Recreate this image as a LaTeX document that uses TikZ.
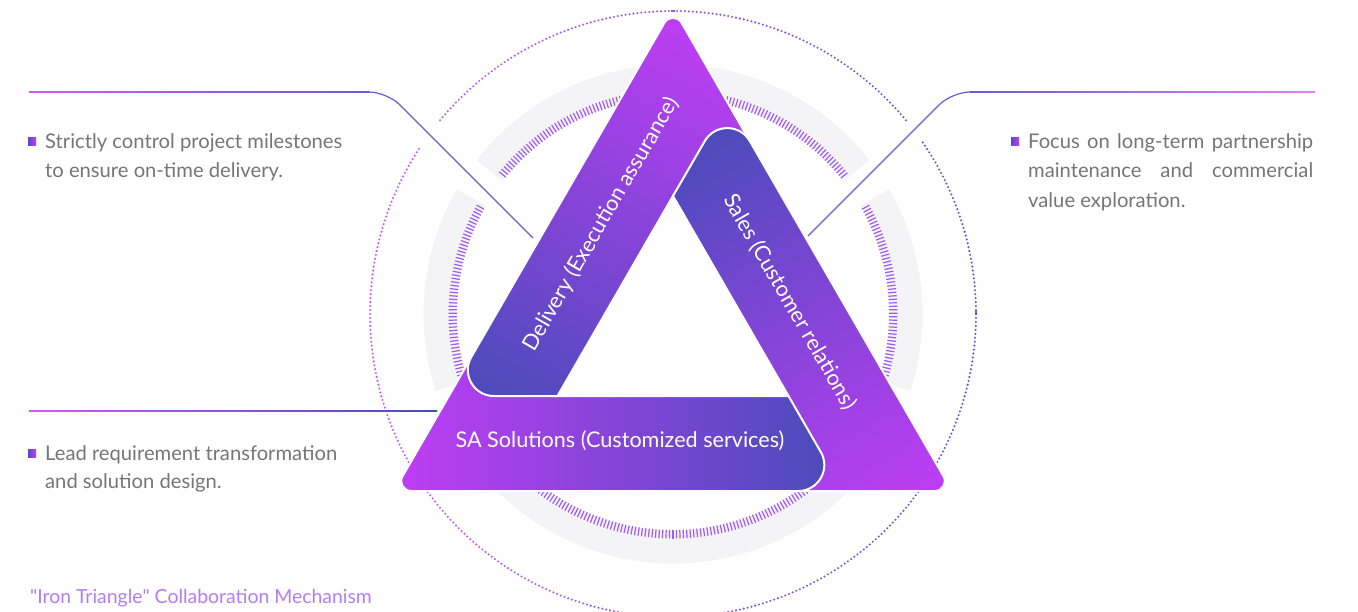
\documentclass[tikz,border=0pt]{standalone}
\usepackage{fontspec}
\setmainfont{Lato}
\usetikzlibrary{calc}
\definecolor{mag}{RGB}{200,60,250}
\definecolor{ind}{RGB}{70,76,184}
\definecolor{tickc}{RGB}{160,90,245}
\definecolor{ringgray}{RGB}{244,244,246}
\definecolor{txtgray}{RGB}{118,118,118}
\definecolor{capc}{RGB}{180,125,248}
\definecolor{dotm}{RGB}{205,90,245}
\definecolor{dotb}{RGB}{85,92,208}
\definecolor{linem}{RGB}{210,90,245}
\definecolor{linep}{RGB}{228,128,245}
\definecolor{linei}{RGB}{104,92,212}
\definecolor{bulA}{RGB}{85,75,205}
\definecolor{bulB}{RGB}{200,60,245}
\tikzset{
  body/.style={anchor=base west, inner sep=0pt, text=txtgray, font=\fontsize{20.2}{24}\selectfont},
  lbl/.style={text=white, inner sep=0pt, font=\fontsize{21.6}{26}\selectfont},
  outl/.style={draw=white, line width=2pt},
  tickmark/.style={draw=tickc, line width=1.2pt},
  conn/.style={line width=1.2pt, rounded corners=18pt},
}
\begin{document}
\begin{tikzpicture}[x=1pt,y=-1pt]
\useasboundingbox (0,0) rectangle (1358,611);
\fill[white] (0,0) rectangle (1358,611);

% ---------- dotted circle ----------
\foreach \k in {0,...,479}{
  \pgfmathsetmacro\ang{\k*0.75}
  \pgfmathtruncatemacro\dgap{((\ang>34.5)&&(\ang<39.5))||((\ang>140.5)&&(\ang<146.5)) ? 1 : 0}
  \ifnum\dgap=0
    \pgfmathtruncatemacro\mixp{50-50*cos(\ang)}
    \fill[dotm!\mixp!dotb] ({673+303*cos(\ang)},{314-303*sin(\ang)}) circle (1.15);
  \fi
}
\fill[dotm!50!dotb] (670.8,9.6) rectangle (675.2,12.4);
\fill[dotb] (974.6,310.8) rectangle (977.4,315.2);

% ---------- gray ring ----------
\foreach \s/\e in {38/142, 150/198, 222/318, 342/390}{
  \draw[ringgray, line width=33pt, line cap=butt] plot[domain=\s:\e, samples=60] ({673+233*cos(\x)},{314-233*sin(\x)});
}
% ---------- ticks ----------
\foreach \s/\n in {39/113, 151/50, 225/100, 344/50}{
  \foreach \k in {0,...,\n}{
    \pgfmathsetmacro\ang{\s+0.9*\k}
    \draw[tickmark] ({673+216*cos(\ang)},{314-216*sin(\ang)}) -- ({673+224.5*cos(\ang)},{314-224.5*sin(\ang)});
  }
}

% ---------- connectors ----------
\coordinate (L1s) at (29,92);
\coordinate (L1h) at (369,92);
\coordinate (L1c) at (387,92);
\coordinate (L1e) at (533,238);
\shade[left color=linem, right color=linei] (29,91.4) rectangle (369.5,92.6);
\draw[conn, linei] (L1h) -- (L1c) -- (L1e);

\coordinate (L2s) at (1315,92);
\coordinate (L2h) at (970,92);
\coordinate (L2c) at (952,92);
\coordinate (L2e) at (808,236);
\shade[left color=linei, right color=linep] (969.5,91.4) rectangle (1315,92.6);
\draw[conn, linei] (L2h) -- (L2c) -- (L2e);

\coordinate (L3s) at (29,411);
\coordinate (L3e) at (437,411);
\shade[left color=linem, right color=ind] (29,410.4) rectangle (437,411.6);

% ---------- triangle geometry ----------
\coordinate (A) at (673,8);
\coordinate (B) at (394,491);
\coordinate (C) at (952,491);
\coordinate (a) at (673,196);
\coordinate (b) at (557.5,396);
\coordinate (c) at (788.5,396);
\coordinate (P) at (448.8,396);
\coordinate (Q) at (843.3,491);
\coordinate (R) at (727.3,102.1);
\coordinate (D1) at (704.2,250);
\coordinate (D2) at (812.7,250);
\coordinate (S1) at (760,491);
\coordinate (E1) at (584.1,350);
\coordinate (E2) at (475.4,350);

\coordinate (Ar) at ($(A)!17pt!(C)$);  \coordinate (Al) at ($(A)!17pt!(B)$);
\coordinate (Arh) at ($(Ar)!0.444!(A)$); \coordinate (Alh) at ($(Al)!0.444!(A)$);
\coordinate (Cr) at ($(C)!17pt!(A)$);  \coordinate (Cb) at ($(C)!17pt!(B)$);
\coordinate (Crh) at ($(Cr)!0.444!(C)$); \coordinate (Cbh) at ($(Cb)!0.444!(C)$);
\coordinate (Ba) at ($(B)!17pt!(A)$);  \coordinate (Bc) at ($(B)!17pt!(C)$);
\coordinate (Bah) at ($(Ba)!0.444!(B)$); \coordinate (Bch) at ($(Bc)!0.444!(B)$);
\coordinate (Pa) at ($(P)!45pt!(A)$);  \coordinate (Pb) at ($(P)!45pt!(b)$);
\coordinate (Pah) at ($(Pa)!0.444!(P)$); \coordinate (Pbh) at ($(Pb)!0.444!(P)$);
\coordinate (Ra) at ($(R)!45pt!(a)$);  \coordinate (Rc) at ($(R)!45pt!(C)$);
\coordinate (Rah) at ($(Ra)!0.444!(R)$); \coordinate (Rch) at ($(Rc)!0.444!(R)$);
\coordinate (Qb) at ($(Q)!45pt!(B)$);  \coordinate (Qc) at ($(Q)!45pt!(c)$);
\coordinate (Qbh) at ($(Qb)!0.444!(Q)$); \coordinate (Qch) at ($(Qc)!0.444!(Q)$);

\def\delpath{(Pb) -- (b) -- (a) -- (D1) -- (D2) -- (Ar) .. controls (Arh) and (Alh) .. (Al) -- (Pa) .. controls (Pah) and (Pbh) .. (Pb) -- cycle}
\def\salespath{(Rc) -- (Cr) .. controls (Crh) and (Cbh) .. (Cb) -- (S1) -- (c) -- (a) -- (Ra) .. controls (Rah) and (Rch) .. (Rc) -- cycle}
\def\sapath{(Bc) -- (Qb) .. controls (Qbh) and (Qch) .. (Qc) -- (c) -- (b) -- (E1) -- (E2) -- (Ba) .. controls (Bah) and (Bch) .. (Bc) -- cycle}

% Delivery band
\begin{scope}
  \clip \delpath;
  \begin{scope}[transform canvas={shift={(588,202)},rotate=60}]
    \shade[left color=ind, right color=mag] (-240,-240) rectangle (240,240);
  \end{scope}
\end{scope}
\draw[outl] \delpath;
% Sales band
\begin{scope}
  \clip \salespath;
  \begin{scope}[transform canvas={shift={(826,320)},rotate=-60}]
    \shade[left color=ind, right color=mag] (-240,-240) rectangle (240,240);
  \end{scope}
\end{scope}
\draw[outl] \salespath;
% SA band
\begin{scope}
  \clip \sapath;
  \begin{scope}[transform canvas={shift={(605,467)}}]
    \shade[left color=mag, right color=ind] (-240,-240) rectangle (240,240);
  \end{scope}
\end{scope}
\draw[outl] \sapath;
% Delivery band lower end on top of SA
\begin{scope}
  \clip (380,325) rectangle (620,400);
  \begin{scope}
    \clip \delpath;
    \begin{scope}[transform canvas={shift={(588,202)},rotate=60}]
      \shade[left color=ind, right color=mag] (-240,-240) rectangle (240,240);
    \end{scope}
  \end{scope}
  \draw[outl] \delpath;
\end{scope}

% ---------- band labels ----------
\node[lbl, rotate=60] (dlab) at (601,224) {Delivery (Execution assurance)};
\node[lbl, rotate=-60] (slab) at (790,302) {Sales (Customer relations)};
\node[lbl] (salab) at (620,441) {SA Solutions (Customized services)};

% ---------- side texts ----------
\shade[left color=bulA, right color=bulB] (28,137) rectangle (36,145);
\node[body] (t1a) at (45,148) {Strictly control project milestones};
\node[body] (t1b) at (45,177.5) {to ensure on-time delivery.};

\shade[left color=bulA, right color=bulB] (1011,137) rectangle (1019,145);
\node[body] (t2a) at (1028,148) {\makebox[285pt][s]{Focus on long-term partnership}};
\node[body] (t2b) at (1028,177.5) {\makebox[285pt][s]{maintenance and commercial}};
\node[body] (t2c) at (1028,207) {value exploration.};

\shade[left color=bulA, right color=bulB] (28,449) rectangle (36,457);
\node[body] (t3a) at (45,460) {Lead requirement transformation};
\node[body] (t3b) at (45,488.5) {and solution design.};

\node[body, text=capc, font=\fontsize{19.4}{24}\selectfont] (cap) at (30,603) {\textquotedbl Iron Triangle\textquotedbl\ Collaboration Mechanism};
\end{tikzpicture}
\end{document}
